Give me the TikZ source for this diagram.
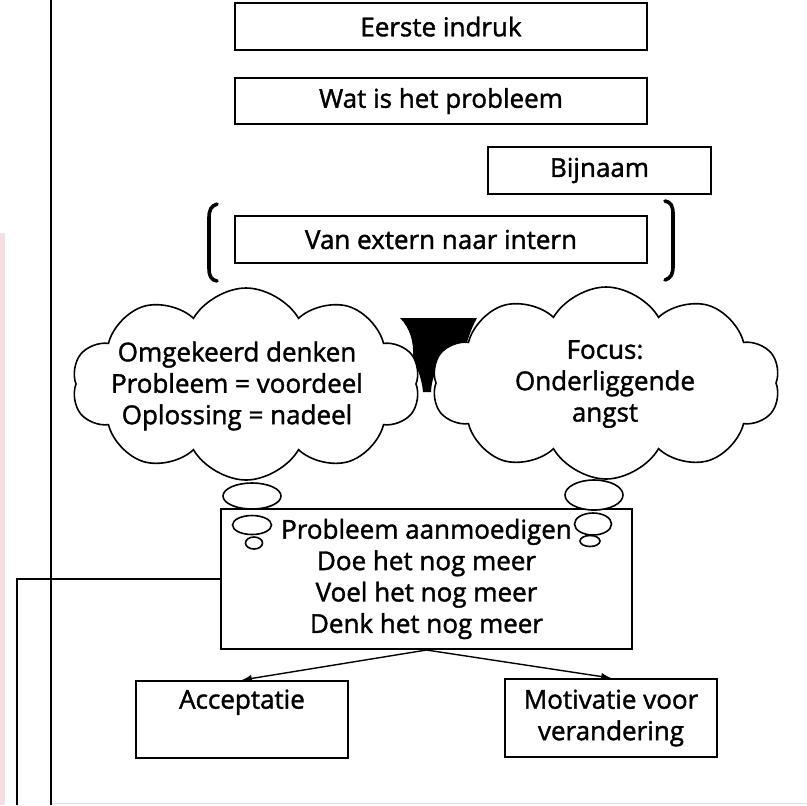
\documentclass[tikz,border=0pt]{standalone}
\usepackage{fontspec}
\setmainfont{Open Sans}[FakeBold=1.5]
\usepackage{tikz}
\usetikzlibrary{arrows,shapes,positioning,calc}
\definecolor{rim}{RGB}{246,222,226}

\begin{document}
\begin{tikzpicture}[x = .5pt, y = -.5pt,
  txt/.style={font=\fontsize{13}{15.7}\selectfont, align=center},
  box/.style={txt, draw, line width=1pt, inner sep=0pt},
  cloudy/.style={cloud, cloud puffs=10, cloud puff arc=120, cloud ignores aspect, inner sep=0pt,
    draw, fill=white, line width=.8pt, minimum width=174pt, minimum height=96pt},
  bubble/.style={ellipse, draw, fill=white, line width=.8pt, inner sep=0pt}]
\useasboundingbox (0,0) rectangle (807,805);
\fill[rim] (0,233) rectangle (5,805);
\draw[gray!25] (51,803) -- (807,803);
\node[box, minimum width=206pt, minimum height=23.5pt] (ee) at (441,26.5) {Eerste indruk};
\node[box, minimum width=206pt, minimum height=23pt] (wat) at (441,101) {Wat is het probleem};
\node[box, minimum width=111.5pt, minimum height=23.5pt] (bij) at (599.5,170.5) {Bijnaam};
\node[box, minimum width=206pt, minimum height=23.5pt] (van) at (441,239.5) {Van extern naar intern};
\draw[line width=1.8pt, line cap=round] (217,204) .. controls (211,206) and (209,210) .. (209,218)
  -- (209,268) .. controls (209,276) and (211,280) .. (217,281);
\draw[line width=1.8pt, line cap=round] (665,201) .. controls (671,202) and (673,206) .. (673,214)
  -- (673,266) .. controls (673,274) and (671,278) .. (665,280);
% black patch between the clouds
\fill (400,318) -- (477,318) .. controls (470,330) and (466,345) .. (463,357)
  .. controls (445,358) and (432,368) .. (431,392) -- (423,392)
  .. controls (422,380) and (418,370) .. (413,357)
  .. controls (414,342) and (410,328) .. (400,318) -- cycle;
\node[cloudy] (lc) at (246,384) {};
\node[cloudy] (rc) at (606,383) {};
\node[txt] (lt) at (237,386) {Omgekeerd denken\\Probleem = voordeel\\Oplossing = nadeel};
\node[txt] (rt) at (605,384) {Focus:\\Onderliggende\\angst};
\node[box, minimum width=205.5pt, minimum height=70pt] (prob) at (426.5,579)
  {Probleem aanmoedigen\\Doe het nog meer\\Voel het nog meer\\Denk het nog meer};
\node[bubble, minimum width=29pt, minimum height=13pt] (l1) at (252,496) {};
\node[bubble, minimum width=19.5pt, minimum height=9.5pt] (l2) at (252,525) {};
\node[bubble, minimum width=8.5pt, minimum height=6pt] (l3) at (254,543) {};
\node[bubble, minimum width=29pt, minimum height=15pt] (r1) at (594,495) {};
\node[bubble, minimum width=18.5pt, minimum height=11pt] (r2) at (593,524) {};
\node[bubble, minimum width=10pt, minimum height=5.5pt] (r3) at (590,541) {};
\node[box, minimum width=106pt, minimum height=38.5pt] (acc) at (242,719.5) {Acceptatie\\\strut};
\node[box, minimum width=106pt, minimum height=39pt] (mot) at (611,718) {Motivatie voor\\verandering};
\draw[-latex, line width=.7pt] (prob.south) -- (acc.north);
\draw[-latex, line width=.7pt] (prob.south) -- (mot.north);
\coordinate (top) at (51,0);
\coordinate (bot) at (51,805);
\coordinate (lbot) at (17,805);
\draw[line width=1pt] (top) -- (bot);
\draw[line width=1pt] (prob.west) -| (lbot);
\end{tikzpicture}
\end{document}
